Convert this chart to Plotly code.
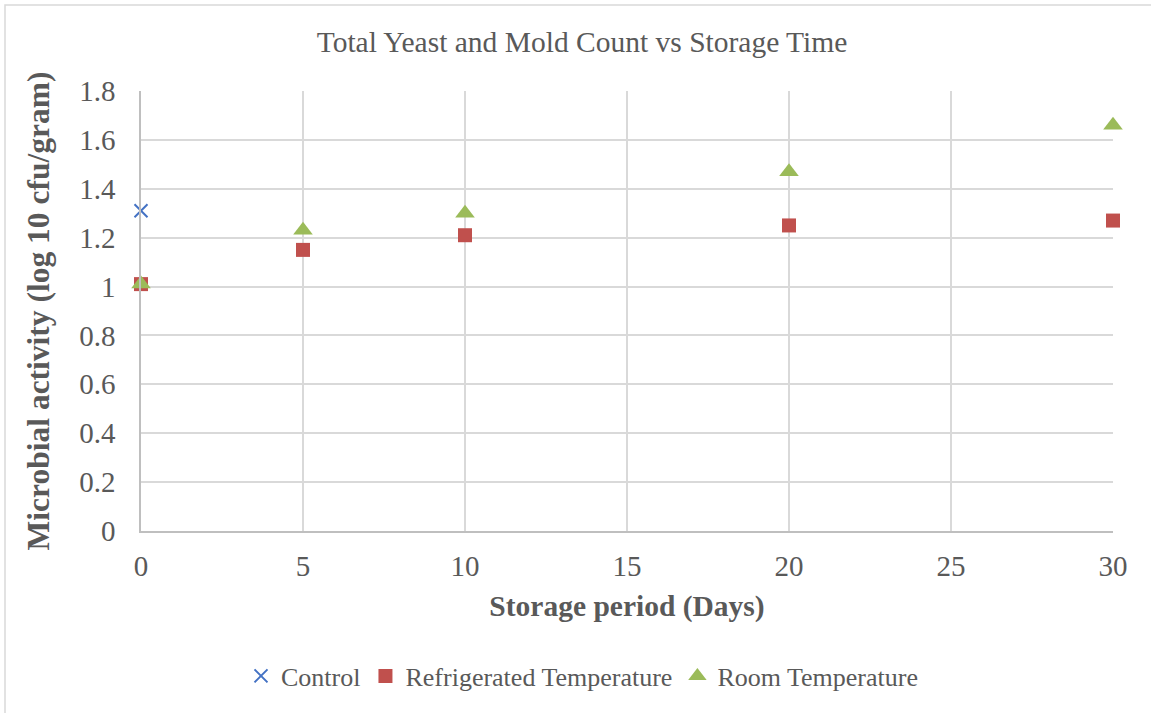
import plotly.graph_objects as go

days_control = [0]
control = [1.31]
days = [0, 5, 10, 20, 30]
refrigerated = [1.01, 1.15, 1.21, 1.25, 1.27]
room = [1.01, 1.23, 1.30, 1.47, 1.66]

x_ticks = [0, 5, 10, 15, 20, 25, 30]
y_ticks = [0, 0.2, 0.4, 0.6, 0.8, 1, 1.2, 1.4, 1.6, 1.8]
y_tick_labels = ["0", "0.2", "0.4", "0.6", "0.8", "1", "1.2", "1.4", "1.6", "1.8"]

FONT = "Liberation Serif, Times New Roman, serif"
GRAY = "#595959"

fig = go.Figure()
fig.add_trace(go.Scatter(x=days_control, y=control, mode="markers", name="Control",
                         marker=dict(symbol="x-thin", size=13, line=dict(color="#4472C4", width=2), color="#4472C4"),
                         cliponaxis=False))
fig.add_trace(go.Scatter(x=days, y=refrigerated, mode="markers", name="Refrigerated Temperature",
                         marker=dict(symbol="square", size=14, color="#C0504D"), cliponaxis=False))
fig.add_trace(go.Scatter(x=days, y=room, mode="markers", name="Room Temperature",
                         marker=dict(symbol="triangle-up", size=17, color="#9BBB59"), cliponaxis=False))

L, R, T, B = 141, 1113, 91, 531
W, H = 1151, 713
pw, ph = R - L, B - T

fig.update_layout(
    width=W, height=H,
    margin=dict(l=L, r=W - R, t=T, b=H - B, autoexpand=False),
    paper_bgcolor="white", plot_bgcolor="white",
    font=dict(family=FONT, color=GRAY),
    title=dict(text="Total Yeast and Mold Count vs Storage Time", x=582 / W, xref="container", xanchor="center",
               y=1 - 42 / H, yanchor="middle", font=dict(size=29.5, color=GRAY, family=FONT)),
    showlegend=True,
    legend=dict(orientation="h", x=(582 - L) / pw, xanchor="center", y=(B - 676) / ph, yanchor="middle",
                font=dict(size=26, color=GRAY, family=FONT), itemwidth=30, tracegroupgap=0),
    xaxis=dict(range=[0, 30], tickvals=x_ticks, showgrid=True, gridcolor="#D9D9D9", gridwidth=1.5,
               zeroline=False, showline=True, linecolor="#BFBFBF", linewidth=1.5,
               tickfont=dict(size=29, color=GRAY, family=FONT), ticks="", ticklabelstandoff=8,
               title=dict(text="<b>Storage period (Days)</b>", font=dict(size=29.5, color=GRAY, family=FONT), standoff=15)),
    yaxis=dict(range=[0, 1.8], tickvals=y_ticks, ticktext=y_tick_labels, showgrid=True, gridcolor="#D9D9D9",
               gridwidth=1.5, zeroline=False, showline=True, linecolor="#BFBFBF", linewidth=1.5,
               tickfont=dict(size=29, color=GRAY, family=FONT), ticks="", ticklabelstandoff=18,
               title=dict(text="<b>Microbial activity (log 10 cfu/gram)</b>", font=dict(size=31.5, color=GRAY, family=FONT), standoff=20)),
)

fig.add_shape(type="rect", xref="paper", yref="paper",
              x0=(5 - L) / pw, x1=(1170 - L) / pw, y0=(B - 730) / ph, y1=(B - 5) / ph,
              line=dict(color="#D9D9D9", width=1.5), fillcolor="rgba(0,0,0,0)", layer="below")

fig.write_html("out.html")
